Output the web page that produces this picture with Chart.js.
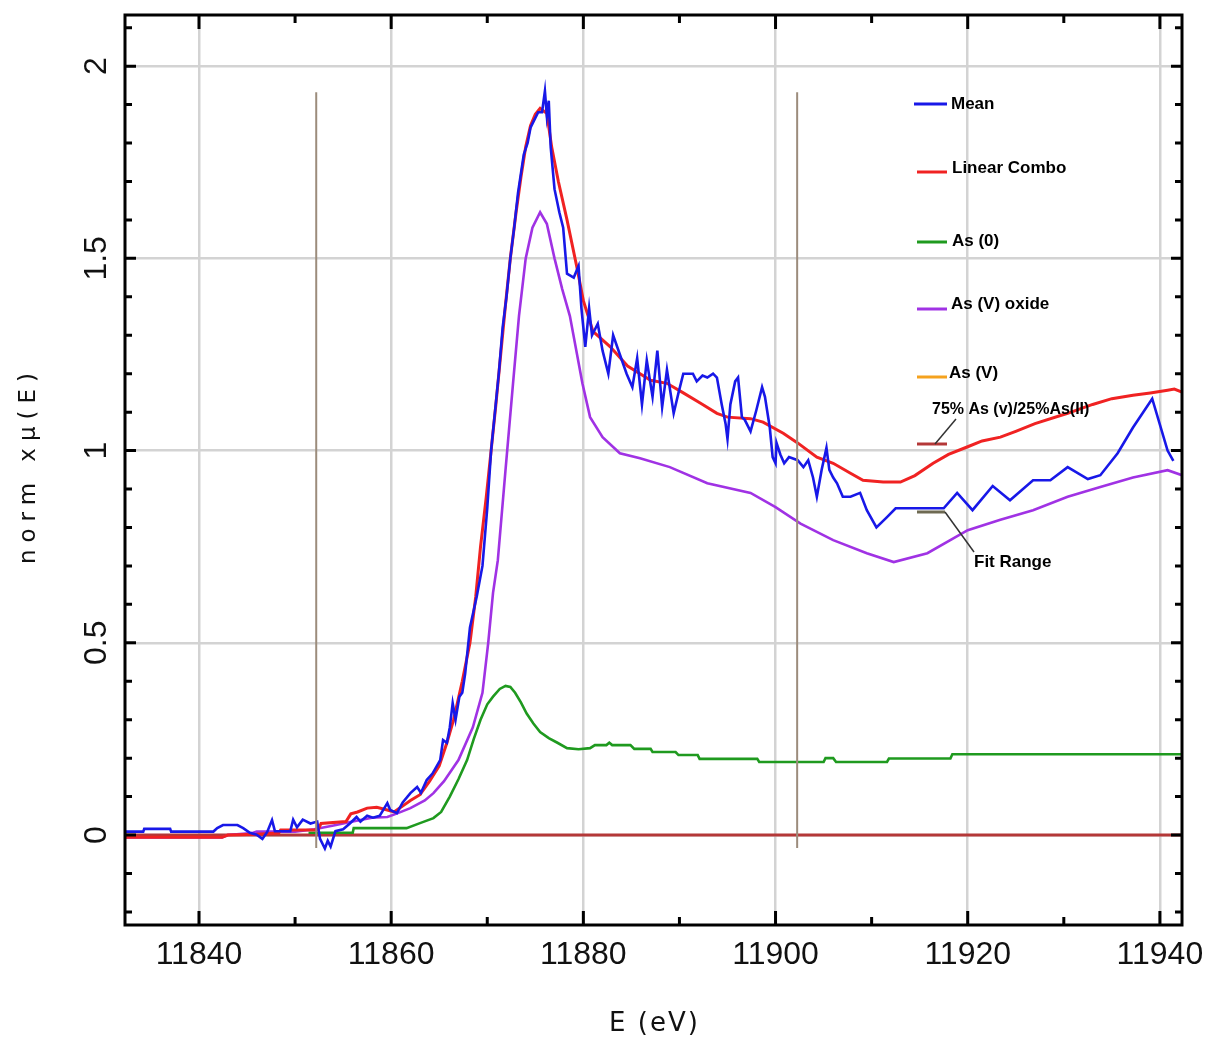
<!DOCTYPE html>
<html><head><meta charset="utf-8">
<script src="https://cdn.jsdelivr.net/npm/chart.js@4.4.1/dist/chart.umd.min.js"></script>
<style>html,body{margin:0;padding:0;background:#fff}canvas{display:block}</style>
</head><body>
<canvas id="c" width="1205" height="1038"></canvas>
<script>
// ---------------- data ----------------
const meanE = [11832.3,11834.2,11834.3,11837.0,11837.1,11841.5,11841.9,11842.5,11844.0,11844.6,11845.3,11846.0,11846.6,11847.1,11847.6,11847.9,11849.5,11849.8,11850.2,11850.8,11851.6,11852.3,11852.6,11853.1,11853.4,11853.7,11854.2,11855.0,11855.7,11856.4,11856.8,11857.5,11858.1,11858.8,11859.6,11859.9,11860.6,11861.2,11862.0,11862.7,11863.1,11863.7,11864.3,11865.1,11865.4,11865.8,11866.1,11866.4,11866.7,11867.1,11867.4,11867.7,11868.2,11868.9,11869.5,11870.0,11870.4,11870.8,11871.2,11871.6,11872.0,11872.4,11872.8,11873.2,11873.5,11873.8,11874.2,11874.5,11874.9,11875.3,11875.7,11876.0,11876.2,11876.4,11876.6,11877.0,11877.5,11877.9,11878.3,11879.0,11879.5,11879.8,11880.2,11880.6,11880.9,11881.5,11882.0,11882.6,11883.1,11883.8,11884.5,11885.1,11885.6,11886.1,11886.6,11887.2,11887.7,11888.2,11888.7,11889.4,11889.9,11890.4,11891.4,11891.8,11892.4,11892.9,11893.5,11893.9,11894.4,11894.8,11895.0,11895.3,11895.8,11896.1,11896.5,11896.8,11897.4,11898.0,11898.6,11898.9,11899.4,11899.7,11900.0,11900.1,11900.5,11900.9,11901.4,11902.3,11902.9,11903.4,11903.9,11904.3,11904.8,11905.3,11905.6,11906.0,11906.4,11907.0,11907.8,11908.8,11909.5,11910.5,11911.6,11912.5,11917.5,11918.9,11920.5,11922.6,11924.4,11926.8,11928.6,11930.4,11932.5,11933.8,11935.6,11937.2,11939.2,11940.8,11941.4];
const meanMu = [0.009,0.009,0.016,0.016,0.009,0.009,0.018,0.026,0.026,0.018,0.006,0.001,-0.01,0.008,0.039,0.01,0.01,0.04,0.02,0.04,0.03,0.035,-0.01,-0.035,-0.015,-0.03,0.01,0.015,0.03,0.047,0.035,0.05,0.045,0.05,0.083,0.065,0.057,0.085,0.109,0.125,0.11,0.143,0.16,0.195,0.247,0.24,0.28,0.343,0.3,0.36,0.37,0.42,0.54,0.62,0.7,0.85,1.0,1.1,1.2,1.32,1.4,1.5,1.58,1.67,1.72,1.77,1.8,1.84,1.86,1.88,1.88,1.935,1.87,1.91,1.79,1.68,1.62,1.58,1.46,1.45,1.48,1.37,1.27,1.37,1.3,1.33,1.26,1.2,1.3,1.25,1.2,1.165,1.24,1.12,1.235,1.14,1.26,1.113,1.21,1.097,1.15,1.2,1.2,1.18,1.195,1.19,1.2,1.19,1.12,1.07,1.03,1.12,1.18,1.19,1.087,1.08,1.05,1.105,1.165,1.14,1.06,0.983,0.967,1.02,0.99,0.967,0.983,0.975,0.957,0.975,0.93,0.88,0.95,1.007,0.95,0.93,0.915,0.88,0.88,0.89,0.845,0.8,0.827,0.85,0.85,0.89,0.845,0.908,0.871,0.923,0.923,0.957,0.926,0.936,0.993,1.06,1.135,1.0,0.973];

const comboE = [11832.3,11842.4,11843.0,11846.0,11848.3,11848.5,11852.4,11852.7,11855.3,11855.8,11856.5,11857.5,11858.5,11859.6,11860.3,11861.0,11862.0,11863.0,11864.0,11865.0,11865.8,11866.5,11867.4,11868.2,11868.8,11869.3,11869.9,11870.4,11870.9,11871.4,11871.9,11872.4,11873.0,11873.5,11874.0,11874.5,11875.0,11875.5,11876.2,11876.7,11877.4,11878.3,11879.3,11880.0,11881.0,11882.8,11884.6,11887.0,11888.7,11890.4,11892.2,11893.9,11895.0,11897.4,11898.7,11900.8,11902.3,11904.3,11906.0,11907.8,11909.1,11911.2,11913.0,11914.5,11916.4,11918.0,11920.0,11921.5,11923.4,11925.0,11927.0,11930.4,11933.0,11935.0,11937.2,11939.0,11940.8,11941.5,11942.3];
const comboMu = [-0.006,-0.006,0.0,0.002,0.005,0.013,0.013,0.03,0.035,0.055,0.06,0.07,0.072,0.065,0.06,0.072,0.09,0.105,0.14,0.18,0.24,0.3,0.4,0.5,0.62,0.75,0.88,1.0,1.12,1.25,1.38,1.5,1.62,1.71,1.79,1.845,1.875,1.89,1.877,1.79,1.7,1.6,1.48,1.39,1.31,1.27,1.22,1.183,1.175,1.15,1.123,1.097,1.087,1.083,1.074,1.045,1.02,0.983,0.967,0.941,0.923,0.918,0.918,0.935,0.967,0.99,1.01,1.025,1.035,1.05,1.07,1.097,1.12,1.135,1.144,1.15,1.157,1.16,1.152];

const as0E = [11851.4,11856.0,11856.1,11861.6,11863.0,11864.4,11865.2,11866.1,11867.0,11867.9,11868.6,11869.3,11870.0,11870.6,11871.3,11871.9,11872.4,11872.9,11873.5,11874.1,11874.8,11875.5,11876.4,11877.3,11878.3,11879.5,11880.7,11881.2,11882.4,11882.7,11883.0,11884.9,11885.3,11887.0,11887.2,11889.6,11889.9,11891.9,11892.1,11898.1,11898.3,11905.0,11905.2,11906.0,11906.3,11911.6,11911.8,11918.2,11918.4,11942.3];
const as0Mu = [0.006,0.006,0.018,0.018,0.031,0.044,0.06,0.1,0.145,0.195,0.25,0.3,0.34,0.36,0.38,0.388,0.385,0.37,0.345,0.316,0.29,0.268,0.252,0.24,0.226,0.223,0.226,0.234,0.234,0.24,0.234,0.234,0.224,0.224,0.216,0.216,0.208,0.208,0.198,0.198,0.19,0.19,0.2,0.2,0.19,0.19,0.199,0.199,0.21,0.21];

const oxideE = [11832.3,11842.4,11843.0,11845.5,11846.0,11850.0,11852.0,11854.0,11856.0,11858.0,11859.6,11860.5,11862.0,11863.5,11864.4,11865.5,11867.0,11868.5,11869.5,11870.1,11870.6,11871.1,11871.9,11872.7,11873.3,11874.0,11874.7,11875.5,11876.2,11877.0,11877.8,11878.6,11879.9,11880.7,11882.0,11883.8,11885.9,11889.0,11892.9,11897.4,11900.0,11902.6,11906.0,11909.5,11912.3,11915.8,11920.0,11923.4,11926.8,11930.4,11933.8,11937.2,11940.8,11942.3];
const oxideMu = [-0.006,-0.006,0.0,0.005,0.009,0.009,0.015,0.025,0.035,0.045,0.047,0.055,0.07,0.09,0.109,0.14,0.195,0.28,0.37,0.5,0.63,0.715,0.95,1.18,1.35,1.5,1.58,1.62,1.59,1.5,1.42,1.35,1.175,1.087,1.035,0.993,0.98,0.957,0.915,0.89,0.853,0.81,0.767,0.733,0.71,0.733,0.793,0.82,0.845,0.88,0.905,0.93,0.949,0.936];

const mixE = [11832.3, 11942.3];      // 75% As(v)/25% As(III) component
const mixMu = [0, 0];
const fitRangeE = [11852.2, 11902.25]; // fit range markers
const fitRangeMu = [-0.034, 1.932];

const xTickValues = [11840, 11850, 11860, 11870, 11880, 11890, 11900, 11910, 11920, 11930, 11940];
const xTickLabels = [11840, 11860, 11880, 11900, 11920, 11940];
const yTickLabels = [0, 0.5, 1, 1.5, 2];
const legendLabels = ['Mean', 'Linear Combo', 'As (0)', 'As (V) oxide', 'As (V)', '75% As (v)/25%As(II)', 'Fit Range'];

// ---------------- helpers ----------------
const pts = (xs, ys) => xs.map((x, i) => ({ x, y: ys[i] }));
const isIn = (arr, v) => arr.some(t => Math.abs(t - v) < 1e-6);
const C = {
  mean: '#1818e8', combo: '#f02222', as0: '#1f9a1f', oxide: '#a032e4',
  asv: '#f5a21e', mix: '#b43838', fit: '#9c8c7c', fitLegend: '#6e6a52'
};
const tickFont = { family: "'Liberation Sans', Arial, sans-serif", size: 32 };

const framePlugin = {
  id: 'frame',
  afterDatasetsDraw(chart) {
    const { ctx, chartArea: a, scales: { x, y } } = chart;
    ctx.save();
    ctx.strokeStyle = '#000';
    ctx.lineWidth = 3;
    ctx.beginPath();
    x.ticks.forEach(t => {
      const p = x.getPixelForValue(t.value);
      const L = isIn(xTickLabels, t.value) ? 14 : 8;
      ctx.moveTo(p, a.bottom); ctx.lineTo(p, a.bottom - L);
      ctx.moveTo(p, a.top); ctx.lineTo(p, a.top + L);
    });
    y.ticks.forEach(t => {
      const p = y.getPixelForValue(t.value);
      const L = isIn(yTickLabels, t.value) ? 11 : 7;
      ctx.moveTo(a.left, p); ctx.lineTo(a.left + L, p);
      ctx.moveTo(a.right, p); ctx.lineTo(a.right - L, p);
    });
    ctx.stroke();
    ctx.strokeRect(a.left, a.top, a.right - a.left, a.bottom - a.top);
    ctx.restore();
  },
  afterDraw(chart) {
    const { ctx, chartArea: a } = chart;
    ctx.save();
    // axis titles
    ctx.fillStyle = '#111';
    ctx.font = "26px 'DejaVu Sans', sans-serif";
    ctx.letterSpacing = '2px';
    ctx.textAlign = 'center';
    ctx.textBaseline = 'alphabetic';
    ctx.fillText('E (eV)', (a.left + a.right) / 2 + 1, 1031);
    ctx.save();
    ctx.translate(35, (a.top + a.bottom) / 2 - 2);
    ctx.rotate(-Math.PI / 2);
    ctx.font = "23px 'DejaVu Sans', sans-serif";
    ctx.letterSpacing = '7px';
    ctx.fillText('norm xμ(E)', 3, 0);
    ctx.restore();

    // legend
    ctx.letterSpacing = '0px';
    ctx.textAlign = 'left';
    ctx.textBaseline = 'middle';
    const seg = (x1, x2, yy, col, w) => {
      ctx.strokeStyle = col; ctx.lineWidth = w;
      ctx.beginPath(); ctx.moveTo(x1, yy); ctx.lineTo(x2, yy); ctx.stroke();
    };
    const rows = [
      [914, 104, 951, 104, C.mean],
      [917, 172, 952, 168, C.combo],
      [917, 242, 952, 241, C.as0],
      [917, 309, 951, 304, C.oxide],
      [917, 377, 949, 373, C.asv]
    ];
    ctx.font = "bold 17px 'Liberation Sans', Arial, sans-serif";
    ctx.fillStyle = '#000';
    rows.forEach((r, i) => {
      seg(r[0], 947, r[1], r[4], 3);
      ctx.fillText(legendLabels[i], r[2], r[3]);
    });
    // mixture component
    seg(917, 947, 444, C.mix, 3);
    ctx.strokeStyle = '#333'; ctx.lineWidth = 1.5;
    ctx.beginPath(); ctx.moveTo(935, 444); ctx.lineTo(956, 419); ctx.stroke();
    ctx.font = "bold 16px 'Liberation Sans', Arial, sans-serif";
    ctx.fillText(legendLabels[5], 932, 410);
    // fit range
    seg(917, 945, 512, C.fitLegend, 3);
    ctx.strokeStyle = '#333'; ctx.lineWidth = 1.5;
    ctx.beginPath(); ctx.moveTo(945, 512); ctx.lineTo(974, 552); ctx.stroke();
    ctx.font = "bold 17px 'Liberation Sans', Arial, sans-serif";
    ctx.fillText(legendLabels[6], 974, 562);
    ctx.restore();
  }
};

new Chart(document.getElementById('c'), {
  type: 'line',
  data: {
    datasets: [
      { label: 'Fit Range', data: pts([fitRangeE[0], fitRangeE[0]], fitRangeMu), borderColor: C.fit, borderWidth: 2 },
      { label: 'Fit Range', data: pts([fitRangeE[1], fitRangeE[1]], fitRangeMu), borderColor: C.fit, borderWidth: 2 },
      { label: 'Mean', data: pts(meanE, meanMu), borderColor: C.mean, borderWidth: 2.6 },
      { label: 'Linear Combo', data: pts(comboE, comboMu), borderColor: C.combo, borderWidth: 3 },
      { label: 'As (V) oxide', data: pts(oxideE, oxideMu), borderColor: C.oxide, borderWidth: 2.6 },
      { label: 'As (0)', data: pts(as0E, as0Mu), borderColor: C.as0, borderWidth: 2.6 },
      { label: '75% As (v)/25%As(II)', data: pts(mixE, mixMu), borderColor: C.mix, borderWidth: 3 }
    ]
  },
  options: {
    responsive: false,
    devicePixelRatio: 1,
    animation: false,
    events: [],
    elements: { point: { radius: 0 }, line: { tension: 0, fill: false } },
    layout: { padding: { left: 0, right: 23, top: 15, bottom: 0 } },
    plugins: { legend: { display: false }, tooltip: { enabled: false }, title: { display: false } },
    scales: {
      x: {
        type: 'linear', position: 'bottom', min: 11832.3, max: 11942.3,
        afterBuildTicks: s => { s.ticks = xTickValues.map(v => ({ value: v })); },
        afterFit: s => { s.height = 113; s.paddingLeft = 0; s.paddingRight = 0; },
        border: { display: false },
        grid: {
          drawTicks: false, lineWidth: 2.5,
          color: c => (c.tick && isIn(xTickLabels, c.tick.value)) ? '#d3d3d3' : 'rgba(0,0,0,0)'
        },
        ticks: {
          autoSkip: false, minRotation: 0, maxRotation: 0,
          padding: 11, color: '#111', font: tickFont,
          callback: v => isIn(xTickLabels, v) ? String(Math.round(v)) : ''
        }
      },
      y: {
        type: 'linear', position: 'left', min: -0.234, max: 2.133,
        afterFit: s => { s.width = 125; s.paddingTop = 0; s.paddingBottom = 0; },
        border: { display: false },
        grid: {
          drawTicks: false, lineWidth: 2.5,
          color: c => (c.tick && isIn(yTickLabels, c.tick.value)) ? '#d3d3d3' : 'rgba(0,0,0,0)'
        },
        ticks: {
          stepSize: 0.1, autoSkip: false, includeBounds: false, minRotation: 90, maxRotation: 90,
          crossAlign: 'center', padding: 6, color: '#111', font: tickFont,
          callback: v => { const t = yTickLabels.find(q => Math.abs(q - v) < 1e-6); return t === undefined ? '' : String(t); }
        }
      }
    }
  },
  plugins: [framePlugin]
});
</script>
</body></html>
